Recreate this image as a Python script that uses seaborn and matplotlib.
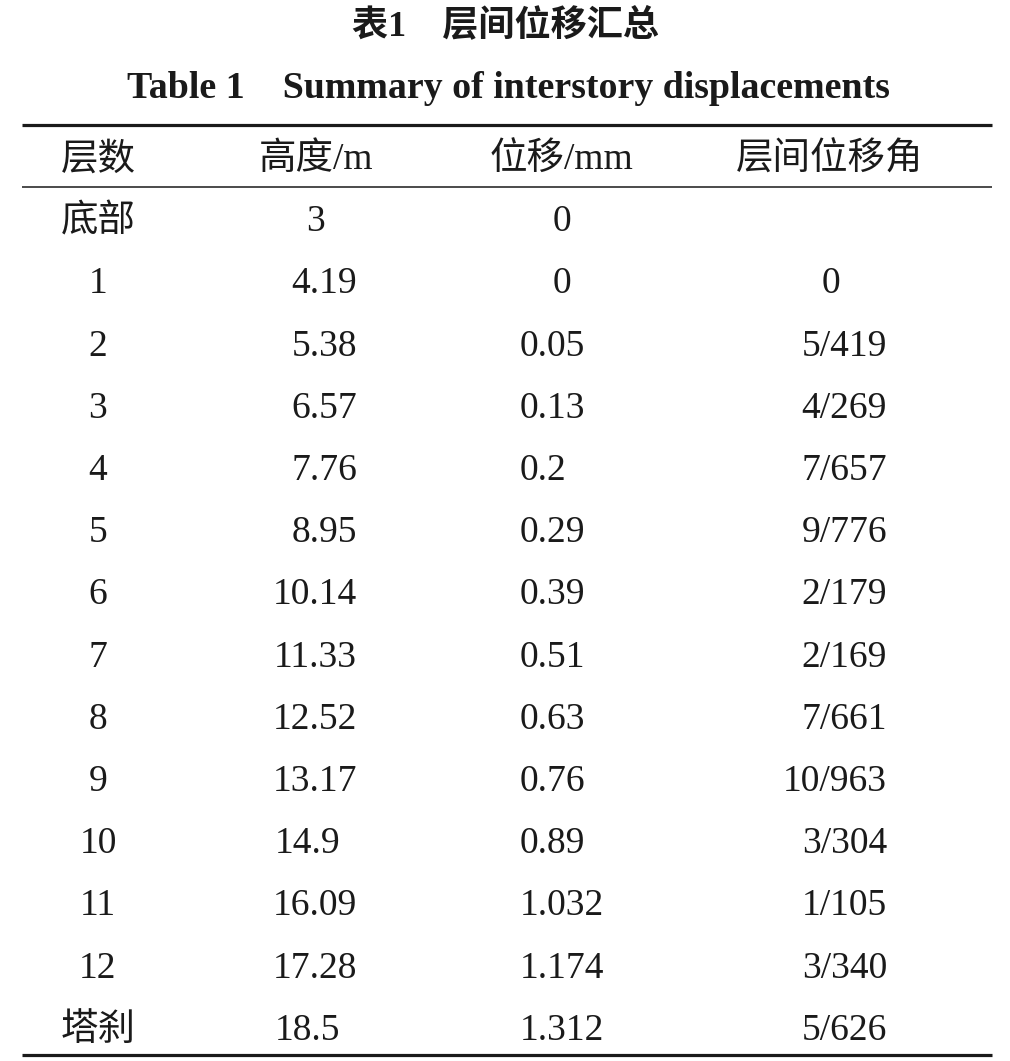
import matplotlib
matplotlib.use("Agg")
import matplotlib.pyplot as plt
import seaborn as sns

# table content
title_cn = "表1\u3000层间位移汇总"
title_en = "Table 1    Summary of interstory displacements"
headers = ["层数", "高度/m", "位移/mm", "层间位移角"]
floors = ["底部", "1", "2", "3", "4", "5", "6", "7", "8", "9", "10", "11", "12", "塔刹"]
heights = ["3", "4.19", "5.38", "6.57", "7.76", "8.95", "10.14", "11.33", "12.52",
           "13.17", "14.9", "16.09", "17.28", "18.5"]
displacements = ["0", "0", "0.05", "0.13", "0.2", "0.29", "0.39", "0.51", "0.63",
                 "0.76", "0.89", "1.032", "1.174", "1.312"]
drift_angles = ["", "0", "5/419", "4/269", "7/657", "9/776", "2/179", "2/169", "7/661",
                "10/963", "3/304", "1/105", "3/340", "5/626"]

# layout (pixel coordinates of the page)
W, H = 1010, 1061
header_x = [98, 316, 562, 830]
row_y0, row_step = 222, 62.2
ha_heights = ["center"] + ["right"] * 9 + ["left", "right", "right", "left"]
ha_disp = ["center", "center"] + ["left"] * 12
ha_drift = ["center", "center"] + ["right"] * 12
anchor = {"heights": {"center": 316, "right": 357, "left": 275},
          "disp": {"center": 562, "left": 520},
          "drift": {"center": 831, "right": 887}}

sns.set_theme(style="white")
fam = ["Liberation Serif", "Noto Sans CJK SC", "DejaVu Sans"]
plt.rcParams["font.family"] = fam

fig = plt.figure(figsize=(W / 100, H / 100), dpi=100)
ax = fig.add_axes([0, 0, 1, 1])
ax.set_xlim(0, W)
ax.set_ylim(H, 0)
ax.axis("off")

ink = "#1a1a1a"
body_fs = 27
ax.text(505, 26, title_cn, ha="center", va="center", fontsize=26, fontweight="bold",
        color=ink, family=["Liberation Serif", "Noto Sans CJK SC"])
ax.text(508, 89, title_en, ha="center", va="center", fontsize=27.3, fontweight="bold",
        color=ink, family=["Liberation Serif"])

# three-line table rules
ax.hlines(125, 22, 992, color=ink, lw=2.3)
ax.hlines(187, 22, 992, color=ink, lw=1.1)
ax.hlines(1055, 22, 992, color=ink, lw=2.3)

for x, h in zip(header_x, headers):
    ax.text(x, 160, h, ha="center", va="center", fontsize=body_fs, color=ink,
            fontweight="light")

for i in range(len(floors)):
    y = row_y0 + i * row_step
    ax.text(header_x[0], y, floors[i], ha="center", va="center", fontsize=body_fs,
            color=ink, fontweight="light")
    ax.text(anchor["heights"][ha_heights[i]], y, heights[i], ha=ha_heights[i], va="center",
            fontsize=body_fs, color=ink)
    ax.text(anchor["disp"][ha_disp[i]], y, displacements[i], ha=ha_disp[i], va="center",
            fontsize=body_fs, color=ink)
    if drift_angles[i]:
        ax.text(anchor["drift"][ha_drift[i]], y, drift_angles[i], ha=ha_drift[i], va="center",
                fontsize=body_fs, color=ink)

fig.savefig("out.png", dpi=100, facecolor="white")
